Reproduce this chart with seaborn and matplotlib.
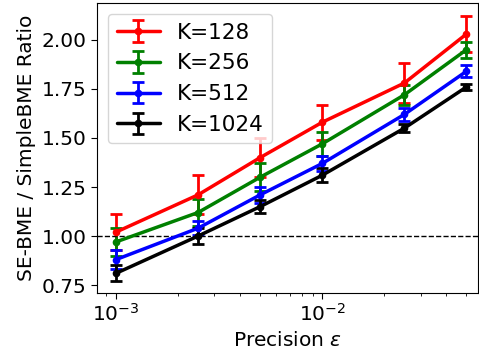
import numpy as np
import pandas as pd
import seaborn as sns
import matplotlib
matplotlib.use("Agg")
import matplotlib.pyplot as plt

# data
precision = [1e-3, 2.5e-3, 5e-3, 1e-2, 2.5e-2, 5e-2]
k_labels = ["K=128", "K=256", "K=512", "K=1024"]
k_colors = ["red", "green", "blue", "black"]

ratio_128 = [1.02, 1.21, 1.40, 1.58, 1.78, 2.03]
err_128 = [0.09, 0.10, 0.10, 0.09, 0.10, 0.09]
ratio_256 = [0.97, 1.12, 1.30, 1.47, 1.72, 1.95]
err_256 = [0.07, 0.07, 0.07, 0.06, 0.05, 0.04]
ratio_512 = [0.88, 1.04, 1.21, 1.37, 1.62, 1.84]
err_512 = [0.05, 0.035, 0.04, 0.04, 0.035, 0.03]
ratio_1024 = [0.81, 1.00, 1.15, 1.31, 1.55, 1.76]
err_1024 = [0.04, 0.04, 0.035, 0.035, 0.02, 0.015]

ratios = [ratio_128, ratio_256, ratio_512, ratio_1024]
errors = [err_128, err_256, err_512, err_1024]

rows = []
for lab, r, e in zip(k_labels, ratios, errors):
    for x, y, s in zip(precision, r, e):
        rows.append({"eps": x, "ratio": y, "err": s, "K": lab})
df = pd.DataFrame(rows)

sns.set_style("ticks", {"text.color": "black", "axes.labelcolor": "black",
                        "xtick.color": "black", "ytick.color": "black",
                        "axes.edgecolor": "black"})
plt.rcParams["font.family"] = ["DejaVu Sans"]
fs = 14.5

fig = plt.figure(figsize=(4.79, 3.54), dpi=100)
ax = fig.add_axes([0.203, 0.173, 0.795, 0.818])

for lab, col in zip(k_labels, k_colors):
    sub = df[df["K"] == lab]
    ax.errorbar(sub["eps"], sub["ratio"], yerr=sub["err"], fmt="-o", color=col,
                lw=2.5, ms=4.5, elinewidth=2, capsize=4, capthick=2, label=lab)

ax.axhline(1.0, color="black", ls="--", lw=1)
ax.set_xscale("log")
ax.set_xlim(10 ** -3.0906, 10 ** -1.245)
ax.set_ylim(0.711, 2.187)
ax.set_yticks([0.75, 1.00, 1.25, 1.50, 1.75, 2.00])
ax.set_xlabel("Precision $\\epsilon$", fontsize=fs)
ax.set_ylabel("SE-BME / SimpleBME Ratio", fontsize=fs)
ax.tick_params(axis="both", which="major", labelsize=fs, length=4, colors="black")
for s in ax.spines.values():
    s.set_visible(True)
    s.set_color("black")
ax.legend(loc="upper left", fontsize=15.5, frameon=True, borderaxespad=0.5)

fig.savefig("out.png", dpi=100)
